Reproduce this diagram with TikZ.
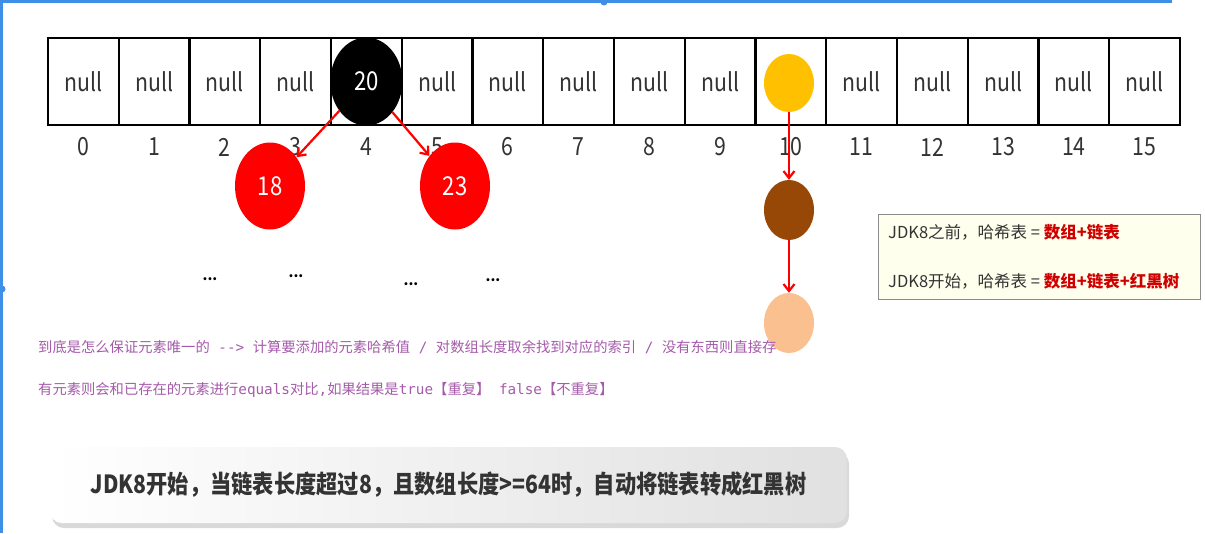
\documentclass[tikz,border=0pt]{standalone}
\usepackage{fontspec}
\setmainfont{Noto Sans CJK SC}
\setmonofont{DejaVu Sans Mono}
\newfontfamily\narrowfont{Noto Sans CJK SC}[FakeStretch=0.85]
\usepackage{tikz}
\usetikzlibrary{arrows.meta,positioning,shapes.geometric,shadows}
\definecolor{hashpurple}{HTML}{A55AAA}
\definecolor{gold}{HTML}{FFC000}
\definecolor{brownnode}{HTML}{974806}
\definecolor{peach}{HTML}{FAC090}
\definecolor{redtext}{HTML}{D00000}
\definecolor{frameblue}{HTML}{3D8FE8}
\definecolor{notebg}{HTML}{FFFFEE}

\begin{document}
\begin{tikzpicture}[x=1pt,y=-1pt,
  slot/.style={draw, line width=2.4pt, minimum width=70.75pt, minimum height=87pt, inner sep=0pt,
    font=\narrowfont\fontsize{25}{25}\selectfont, text=black!80},
  idx/.style={font=\narrowfont\fontsize{25}{25}\selectfont, text=black!80},
  ball/.style={ellipse, inner sep=0pt, text=white, font=\narrowfont\fontsize{26}{26}\selectfont},
  link/.style={red, line width=2.2pt, -{Straight Barb[length=7pt,width=11pt]}},
  gap/.style={font=\bfseries\fontsize{14}{14}\selectfont},
  noteline/.style={anchor=west, inner sep=0pt, font=\fontsize{16.5}{16.5}\selectfont, text=black!80},
  purpleline/.style={anchor=west, inner sep=0pt, text=hashpurple, font=\fontsize{14.3}{14.3}\selectfont}]
  \useasboundingbox (0,0) rectangle (1205,533);

  % frame of the screenshot
  \draw[frameblue, line width=2.5pt] (0,1.5) -- (1172,1.5);
  \draw[frameblue, line width=2.5pt] (1.5,0) -- (1.5,533);
  \fill[frameblue] (604,2) circle (3.5pt);
  \fill[frameblue] (2,289) circle (3.5pt);

  % Array (16 buckets)
  \foreach \i in {0,...,15} {
    \node[slot] (cell\i) at ({48+70.75*(\i+0.5)},81.5) {\ifnum\i=4 \else\ifnum\i=10 \else null\fi\fi};
    \node[idx] (idx\i) at ({48+70.75*(\i+0.5)},147) {\i};
  }

  % red-black tree in bucket 4
  \node[ball, fill=black, minimum width=72pt, minimum height=88pt] (n20) at (cell4) {20};
  \node[ball, fill=red, minimum width=70pt, minimum height=87pt] (n18) at (270,186) {18};
  \node[ball, fill=red, minimum width=70pt, minimum height=87pt] (n23) at (455,186) {23};
  \draw[link] (n20) -- (n18);
  \draw[link] (n20) -- (n23);

  \node[gap] (gap1) at (210,279) {...};
  \node[gap] (gap2) at (296,276) {...};
  \node[gap] (gap3) at (411,284) {...};
  \node[gap] (gap4) at (493,280) {...};

  % linked list in bucket 10
  \node[ball, fill=gold, minimum width=50pt, minimum height=58pt] (head) at (789,83) {};
  \node[ball, fill=brownnode, minimum width=50pt, minimum height=60pt] (mid) at (789,210) {};
  \node[ball, fill=peach, minimum width=50pt, minimum height=60pt] (tail) at (789,323) {};
  \draw[link] (head) -- (mid);
  \draw[link] (mid) -- (tail);

  % note box
  \node[draw=black!45, fill=notebg, line width=1pt, minimum width=322pt, minimum height=85pt,
    drop shadow={opacity=0.25, shadow xshift=1pt, shadow yshift=-1pt}] (info) at (1039,256.5) {};
  \node[noteline] (before) at (888,232) {JDK8之前，哈希表 = \textcolor{redtext}{\bfseries 数组+链表}};
  \node[noteline] (since) at (888,281) {JDK8开始，哈希表 = \textcolor{redtext}{\bfseries 数组+链表+红黑树}};

  % explanation
  \node[purpleline] (why) at (38,347) {到底是怎么保证元素唯一的\texttt{ -{}-> }计算要添加的元素哈希值\texttt{ / }对数组长度取余找到对应的索引\texttt{ / }没有东西则直接存};
  \node[purpleline] (check) at (38,390) {有元素则会和已存在的元素进行\texttt{equals}对比\texttt{,}如果结果是\texttt{true}【重复】\texttt{ false}【不重复】};

  % banner
  \node[rounded corners=12pt, minimum width=797pt, minimum height=76pt, left color=white, right color=black!12,
    drop shadow={opacity=0.3, shadow xshift=2pt, shadow yshift=-5pt}, text=black!80,
    font=\narrowfont\bfseries\fontsize{25}{25}\selectfont] (rule) at (448.5,485)
    {JDK8开始，当链表长度超过8，且数组长度>=64时，自动将链表转成红黑树};
\end{tikzpicture}
\end{document}
